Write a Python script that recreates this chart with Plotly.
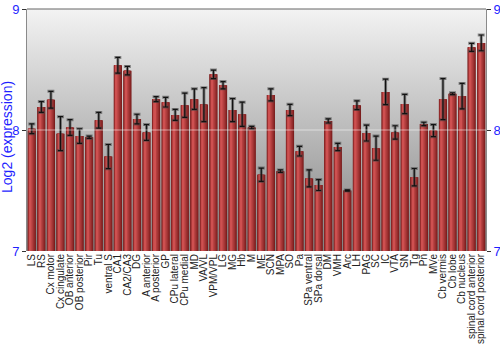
import plotly.graph_objects as go

categories = ["LS", "RS", "Cx motor", "Cx cingulate", "OB anterior", "OB posterior", "Pir", "Tu",
              "ventral S", "CA1", "CA2/CA3", "DG", "A anterior", "A posterior", "GP", "CPu lateral",
              "CPu medial", "MD", "VA/VL", "VPM/VPL", "LG", "MG", "Hb", "M", "ME", "SCN", "MPA", "SO",
              "Pa", "SPa ventral", "SPa dorsal", "DM", "VMH", "Arc", "LH", "PAG", "SC", "IC", "VTA",
              "SN", "Tg", "Pn", "MVe", "Cb vermis", "Cb lobe", "Cb nucleus", "spinal cord anterior",
              "spinal cord posterior"]
expression = [8.01, 8.19, 8.25, 7.97, 8.02, 7.95, 7.94, 8.08,
              7.78, 8.535, 8.49, 8.09, 7.98, 8.255, 8.23, 8.125,
              8.205, 8.255, 8.21, 8.46, 8.37, 8.165, 8.13, 8.02, 7.63, 8.29, 7.66, 8.165,
              7.825, 7.60, 7.545, 8.075, 7.86, 7.50, 8.205, 7.975, 7.85, 8.315, 7.98,
              8.215, 7.61, 8.05, 7.995, 8.255, 8.30, 8.28, 8.683,
              8.72]
errors = [0.04, 0.045, 0.07, 0.14, 0.065, 0.06, 0.01, 0.065,
          0.10, 0.065, 0.035, 0.04, 0.065, 0.02, 0.04, 0.045,
          0.10, 0.085, 0.14, 0.035, 0.03, 0.095, 0.10, 0.01, 0.055, 0.05, 0.01, 0.047,
          0.04, 0.07, 0.045, 0.017, 0.03, 0.005, 0.036, 0.066, 0.10, 0.105, 0.055,
          0.08, 0.072, 0.014, 0.05, 0.17, 0.008, 0.105, 0.033,
          0.065]
y_ticks = [7, 8, 9]
y_range = [7, 9]

BLUE = "#1f1fff"
W = 0.86
PEAK = 0.3
EDGE = (118, 26, 26)
BRIGHT = (206, 80, 80)
K = 10

n = len(categories)
xpos = list(range(n))
x_range = [-0.5, n - 0.5]

fig = go.Figure()

# background vertical gradient on base subplot
fig.add_trace(go.Scatter(
    x=[x_range[0], x_range[1], x_range[1], x_range[0], x_range[0]],
    y=[y_range[0], y_range[0], y_range[1], y_range[1], y_range[0]],
    xaxis="x", yaxis="y",
    mode="lines", line=dict(width=0), fill="toself",
    fillgradient=dict(type="vertical", start=y_range[0], stop=y_range[1],
                      colorscale=[[0, "#828282"], [1, "#f3f3f3"]]),
    hoverinfo="skip", showlegend=False))

# bars with horizontal gradient (nested overlays) on overlaid subplot
for k in range(K):
    s = 1 - k / K
    t = (k / (K - 1)) ** 0.8
    c = tuple(int(EDGE[i] + (BRIGHT[i] - EDGE[i]) * t) for i in range(3))
    fig.add_trace(go.Bar(
        x=xpos, y=expression, xaxis="x2", yaxis="y2",
        offset=-W / 2 + W * (PEAK - PEAK * s), width=W * s,
        marker=dict(color="rgb(%d,%d,%d)" % c, line=dict(width=0)),
        hoverinfo="skip", showlegend=False))

# error bar halo
fig.add_trace(go.Bar(
    x=xpos, y=expression, width=W, xaxis="x2", yaxis="y2",
    marker=dict(color="rgba(0,0,0,0)", line=dict(width=0)),
    error_y=dict(type="data", array=errors, color="rgba(70,70,70,0.55)", thickness=3, width=3.5),
    hoverinfo="skip", showlegend=False))
# error bars
fig.add_trace(go.Bar(
    x=xpos, y=expression, width=W, xaxis="x2", yaxis="y2",
    marker=dict(color="rgba(0,0,0,0)", line=dict(width=0)),
    error_y=dict(type="data", array=errors, color="#111111", thickness=1.2, width=2.5),
    showlegend=False))

axis_common = dict(range=y_range, tickvals=y_ticks, zeroline=False, showline=True,
                   linecolor="#8a8a8a", linewidth=1, ticks="outside", ticklen=4,
                   tickcolor="#333333", tickfont=dict(size=13, color=BLUE), automargin=False)

fig.update_layout(
    width=500, height=350,
    margin=dict(l=27, r=14, t=9, b=99),
    barmode="overlay",
    paper_bgcolor="white", plot_bgcolor="rgba(0,0,0,0)",
    showlegend=False,
    font=dict(family="Liberation Sans, Arial, sans-serif"),
    xaxis=dict(range=x_range, visible=False),
    xaxis2=dict(overlaying="x", side="bottom", tickmode="array", tickvals=xpos,
                ticktext=categories, tickangle=-90, showgrid=False, zeroline=False,
                showline=False, ticks="", tickfont=dict(size=10, color="#222222"),
                range=x_range, automargin=False),
    yaxis=dict(showgrid=True, gridcolor="white", gridwidth=1.5, side="left", **axis_common),
    yaxis2=dict(overlaying="y", side="right", showgrid=False, **axis_common),
    shapes=[
        dict(type="line", xref="paper", yref="paper", x0=0, x1=1, y0=1, y1=1,
             line=dict(color="#666666", width=1.2)),
        dict(type="line", xref="paper", yref="y", x0=0, x1=1, y0=8, y1=8, layer="above",
             line=dict(color="rgba(255,255,255,0.35)", width=1.5)),
    ],
    annotations=[
        dict(text="Log2 (expression)", textangle=-90, xref="paper", yref="paper",
             x=-0.042, y=0.47, xanchor="center", yanchor="middle", showarrow=False,
             font=dict(size=14, color=BLUE)),
    ],
)

fig.write_html("out.html")
